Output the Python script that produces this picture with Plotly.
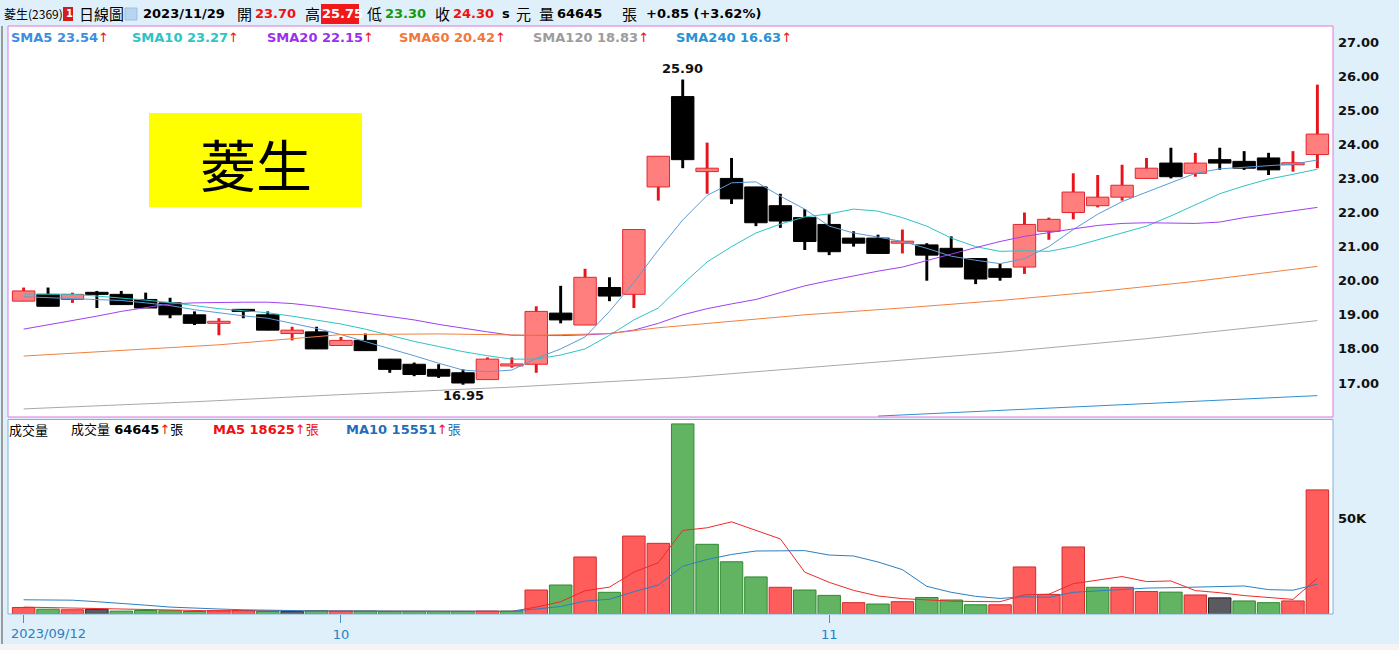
import plotly.graph_objects as go

# ---------------- data ----------------
dates = ["2023/09/12","09/13","09/14","09/15","09/18","09/19","09/20","09/21","09/22","09/25","09/26","09/27","09/28",
         "10/02","10/03","10/04","10/05","10/06","10/11","10/12","10/13","10/16","10/17","10/18","10/19","10/20",
         "10/23","10/24","10/25","10/26","10/27","10/30","10/31",
         "11/01","11/02","11/03","11/06","11/07","11/08","11/09","11/10","11/13","11/14","11/15","11/16","11/17",
         "11/20","11/21","11/22","11/23","11/24","11/27","11/28","11/29"]

opens = [19.40,19.60,19.45,19.60,19.60,19.45,19.35,19.00,18.75,19.15,19.00,18.45,18.50,18.10,18.25,17.70,17.55,17.40,
         17.30,17.10,17.50,17.55,19.05,18.70,19.80,19.60,22.75,25.40,23.20,23.00,22.75,22.20,21.85,21.65,21.25,21.25,
         21.10,21.05,20.95,20.65,20.35,20.40,21.45,22.00,22.20,22.45,23.00,23.45,23.15,23.55,23.50,23.60,23.40,23.70]
highs = [19.80,19.80,19.65,19.70,19.70,19.65,19.50,19.10,18.90,19.15,19.10,18.65,18.65,18.35,18.45,17.70,17.60,17.55,
         17.40,17.75,17.75,19.25,19.85,20.35,20.10,21.50,23.65,25.90,24.05,23.60,22.75,22.55,22.10,21.95,21.45,21.35,
         21.50,21.10,21.30,20.65,20.50,22.00,21.85,23.15,23.10,23.40,23.60,23.90,23.75,23.90,23.80,23.75,23.80,25.75]
lows = [19.40,19.25,19.35,19.20,19.30,19.20,18.90,18.70,18.40,18.90,18.55,18.25,18.00,18.10,17.95,17.30,17.20,17.15,
        16.95,17.10,17.45,17.30,18.75,18.70,19.40,19.20,22.35,23.30,22.55,22.25,21.60,21.55,20.90,20.75,21.00,20.80,
        20.80,20.00,20.40,19.90,20.00,20.20,21.20,21.80,22.15,22.35,23.00,23.00,23.05,23.25,23.25,23.10,23.20,23.30]
closes = [19.70,19.25,19.60,19.60,19.30,19.20,19.00,18.75,18.80,19.10,18.55,18.55,18.00,18.25,17.95,17.40,17.25,17.20,
          17.00,17.70,17.55,19.10,18.85,20.10,19.55,21.50,23.65,23.55,23.30,22.40,21.70,21.75,21.15,20.85,21.10,20.80,
          21.15,20.75,20.40,20.05,20.10,21.65,21.80,22.60,22.45,22.80,23.30,23.05,23.45,23.45,23.30,23.25,23.45,24.30]
volumes = [3400,2500,2200,2500,1500,1800,1700,1300,1700,1800,1300,1300,1800,1500,1500,1300,1300,1300,1300,1500,1500,
           12500,15100,29700,11300,40600,36800,99000,36300,27200,19300,13900,12500,9700,5900,5200,6400,8600,7300,4800,
           4800,24500,10200,34900,13900,13900,11700,11400,9900,8400,6800,5900,6800,64645]

sma5 = [19.53,19.50,19.48,19.45,19.42,19.35,19.27,19.15,19.05,18.97,18.90,18.75,18.60,18.42,18.22,18.00,17.80,17.58,
        17.38,17.33,17.38,17.72,18.00,18.35,19.10,19.95,20.90,21.78,22.50,22.87,22.90,22.48,22.10,21.60,21.40,21.28,
        21.15,20.95,20.72,20.60,20.50,20.65,21.00,21.50,21.95,22.32,22.60,22.86,23.15,23.28,23.33,23.36,23.42,23.54]
sma10 = [19.61,19.61,19.60,19.55,19.50,19.43,19.36,19.27,19.18,19.12,19.06,18.96,18.85,18.73,18.58,18.40,18.22,18.07,
         17.92,17.80,17.70,17.70,17.82,18.00,18.40,18.85,19.20,19.90,20.55,21.00,21.40,21.66,21.87,21.96,22.10,22.04,
         21.85,21.60,21.25,21.00,20.86,20.88,20.86,21.00,21.20,21.40,21.60,21.90,22.22,22.55,22.78,22.98,23.12,23.27]
sma20 = [18.58,18.70,18.82,18.96,19.10,19.22,19.32,19.35,19.37,19.37,19.37,19.33,19.25,19.15,19.05,18.95,18.85,18.72,
         18.60,18.50,18.40,18.39,18.39,18.41,18.45,18.55,18.75,19.00,19.18,19.32,19.45,19.65,19.85,20.00,20.15,20.28,
         20.40,20.60,20.78,20.97,21.15,21.30,21.42,21.52,21.62,21.68,21.70,21.68,21.68,21.72,21.85,21.95,22.05,22.15]
sma60_idx = [0, 4, 8, 13, 17, 21, 24, 26, 28, 32, 36, 40, 44, 48, 53]
sma60 = [17.79, 17.95, 18.12, 18.42, 18.44, 18.40, 18.45, 18.62, 18.75, 19.00, 19.20, 19.42, 19.68, 19.98, 20.42]
sma120_idx = [0, 7, 13, 20, 27, 33, 40, 46, 53]
sma120 = [16.24, 16.45, 16.66, 16.88, 17.16, 17.50, 17.90, 18.30, 18.83]
sma240_idx = [35, 40, 45, 50, 53]
sma240 = [16.03, 16.20, 16.37, 16.53, 16.63]

vol_ma5 = [3600,3300,3000,2800,2400,2100,1900,1800,1600,1700,1600,1600,1600,1500,1500,1500,1500,1400,1300,1300,1400,
           3600,6400,12100,14000,21800,26700,43500,44900,48000,43700,39100,21800,16500,12300,9400,8000,7200,6700,6500,
           6400,10000,10300,15800,17700,19500,16900,17200,12200,11100,9600,8500,7600,18625]
vol_ma10 = [7400,7400,7200,6400,5600,4600,3600,3000,2600,2200,1900,1700,1600,1600,1500,1500,1500,1500,1500,1500,1400,
            2600,3900,6700,7700,11600,15100,24900,28400,31000,32800,32900,33000,30700,30200,27100,23100,14400,11300,9200,
            8100,9000,8700,11300,12100,12900,13500,13700,14000,14400,14600,12700,12400,15551]

price_ticks = [17, 18, 19, 20, 21, 22, 23, 24, 25, 26, 27]
x_tick_pos = [0, 13, 33]
x_tick_text = ["2023/09/12", "10", "11"]

# ---------------- figure ----------------
W, H = 1399, 650
def px(xp): return xp / W
def py(yp): return 1 - yp / H

FONT = "DejaVu Sans, Noto Sans CJK TC, sans-serif"
CJK = "Noto Sans CJK TC, DejaVu Sans, sans-serif"
n = len(dates)
idx = list(range(n))
up = [c > o for o, c in zip(opens, closes)]

fig = go.Figure()

# wicks
fig.add_trace(go.Bar(
    x=idx, y=[h - l for h, l in zip(highs, lows)], base=lows, width=0.12,
    marker=dict(color=["#e8141c" if u else "#000000" for u in up], line=dict(width=0)),
    xaxis="x2", yaxis="y", hoverinfo="skip", showlegend=False))
# bodies
body_base = [min(o, c) for o, c in zip(opens, closes)]
body_h = [max(abs(c - o), 0.06) for o, c in zip(opens, closes)]
fig.add_trace(go.Bar(
    x=idx, y=body_h, base=body_base, width=0.92,
    marker=dict(color=["#ff7f7f" if u else "#000000" for u in up],
                line=dict(color=["#e5262e" if u else "#000000" for u in up], width=1)),
    xaxis="x2", yaxis="y", hoverinfo="skip", showlegend=False))

ma_specs = [
    (idx, sma5, "#5b9bd5"), (idx, sma10, "#2ec4c4"), (idx, sma20, "#a040f0"),
    (sma60_idx, sma60, "#f08040"), (sma120_idx, sma120, "#a8a8a8"), (sma240_idx, sma240, "#2e90d0"),
]
for xs, ys, col in ma_specs:
    fig.add_trace(go.Scatter(x=xs, y=ys, mode="lines", line=dict(color=col, width=1),
                             xaxis="x2", yaxis="y", hoverinfo="skip", showlegend=False))

# volume
vcol, vline = [], []
for i in range(n):
    if i == 0 or closes[i] > closes[i - 1]:
        vcol.append("#ff5c5c"); vline.append("#d42a2a")
    elif closes[i] < closes[i - 1]:
        vcol.append("#62b462"); vline.append("#2f8a2f")
    else:
        vcol.append("#5a5a60"); vline.append("#222222")
fig.add_trace(go.Bar(x=idx, y=volumes, width=0.92,
                     marker=dict(color=vcol, line=dict(color=vline, width=1)),
                     xaxis="x", yaxis="y2", hoverinfo="skip", showlegend=False))
fig.add_trace(go.Scatter(x=idx, y=vol_ma5, mode="lines", line=dict(color="#ee2a2a", width=1),
                         xaxis="x", yaxis="y2", hoverinfo="skip", showlegend=False))
fig.add_trace(go.Scatter(x=idx, y=vol_ma10, mode="lines", line=dict(color="#2c7fc0", width=1),
                         xaxis="x", yaxis="y2", hoverinfo="skip", showlegend=False))

xr = [-0.64, 53.64]
xdom = [px(8), px(1333)]
fig.update_layout(
    width=W, height=H, margin=dict(l=0, r=0, t=0, b=0),
    paper_bgcolor="#e0f0fb", plot_bgcolor="#ffffff",
    barmode="overlay", showlegend=False,
    font=dict(family=FONT, size=13, color="#000"),
    xaxis=dict(domain=xdom, range=xr, anchor="y2", showgrid=False, zeroline=False,
               tickvals=x_tick_pos, ticktext=[""] + x_tick_text[1:], ticks="outside", ticklen=8,
               tickcolor="#4a90c8", tickfont=dict(color="#2a7fc0", size=13, family=FONT),
               showline=False, ticklabeloverflow="allow"),
    xaxis2=dict(domain=xdom, range=xr, anchor="y", matches="x", showgrid=False, zeroline=False,
                showticklabels=False, ticks=""),
    yaxis=dict(domain=[py(417), py(26)], range=[16.003, 27.47], side="right", anchor="x2",
               showgrid=False, zeroline=False, tickvals=price_ticks,
               ticktext=["<b>%.2f</b>" % v for v in price_ticks], ticks="",
               ticklabelstandoff=4, tickfont=dict(size=13, color="#111")),
    yaxis2=dict(domain=[py(614), py(419.5)], range=[0, 101300], side="right", anchor="x",
                showgrid=False, zeroline=False, tickvals=[50000], ticktext=["<b>50K</b>"],
                ticks="", ticklabelstandoff=4, tickfont=dict(size=13, color="#111")),
)

shapes = []
shapes.append(dict(type="rect", xref="paper", yref="paper", x0=px(8), x1=px(1333), y0=py(417), y1=py(26),
                   line=dict(color="#dc78dc", width=1)))
shapes.append(dict(type="rect", xref="paper", yref="paper", x0=px(8), x1=px(1333), y0=py(614), y1=py(419.5),
                   line=dict(color="#7fb0d6", width=1)))
shapes.append(dict(type="line", xref="paper", yref="paper", x0=px(2), x1=px(2), y0=py(645), y1=py(26),
                   line=dict(color="#9a9a9a", width=2)))
shapes.append(dict(type="rect", xref="paper", yref="paper", x0=0, x1=1, y0=0, y1=py(644),
                   line=dict(width=0), fillcolor="#f4f4f4"))
shapes.append(dict(type="rect", xref="paper", yref="paper", x0=px(149), x1=px(362), y0=py(207), y1=py(113),
                   line=dict(width=0), fillcolor="#ffff00"))
shapes.append(dict(type="rect", xref="paper", yref="paper", x0=px(63), x1=px(73), y0=py(21), y1=py(7),
                   line=dict(width=0), fillcolor="#d01c1c"))
shapes.append(dict(type="rect", xref="paper", yref="paper", x0=px(125), x1=px(137), y0=py(20), y1=py(8),
                   line=dict(color="#9cc0e4", width=1), fillcolor="#b8d4f0"))
shapes.append(dict(type="rect", xref="paper", yref="paper", x0=px(321), x1=px(359), y0=py(24), y1=py(4),
                   line=dict(width=0), fillcolor="#f01818"))
fig.update_layout(shapes=shapes)

ann = []
def txt(x, y, s, size=13, color="#000", fam=FONT, xanchor="left"):
    ann.append(dict(xref="paper", yref="paper", x=px(x), y=py(y), text=s, showarrow=False,
                    xanchor=xanchor, yanchor="middle", font=dict(size=size, color=color, family=fam)))

# header
HY = 14
txt(2, HY, "菱生(2369)", 12, "#000", CJK)
txt(64, HY, "<b>1</b>", 10, "#ffffff")
txt(77, HY, "日線圖", 15, "#000", CJK)
txt(141, HY, "<b>2023/11/29</b>", 13)
txt(235, HY, "開", 15, "#000", CJK)
txt(253, HY, "<b>23.70</b>", 13, "#ee1111")
txt(303, HY, "高", 15, "#000", CJK)
txt(320, HY, "<b>25.75</b>", 13, "#ffffff")
txt(365, HY, "低", 15, "#000", CJK)
txt(383, HY, "<b>23.30</b>", 13, "#119911")
txt(433, HY, "收", 15, "#000", CJK)
txt(451, HY, "<b>24.30</b>", 13, "#ee1111")
txt(500, HY, "<b>s</b>", 13)
txt(514, HY, "元", 15, "#000", CJK)
txt(537, HY, "量", 15, "#000", CJK)
txt(555, HY, "<b>64645</b>", 13)
txt(620, HY, "張", 15, "#000", CJK)
txt(644, HY, "<b>+0.85 (+3.62%)</b>", 13)

# price legend
LY = 37
arrow = "<span style='color:#ee1111'>↑</span>"
legend_items = [(9, "SMA5 23.54", "#3d8ee0"), (130, "SMA10 23.27", "#2cc4c4"),
                (265, "SMA20 22.15", "#9a30ee"), (397, "SMA60 20.42", "#f0783a"),
                (531, "SMA120 18.83", "#9c9c9c"), (674, "SMA240 16.63", "#2a92d4")]
for x, s, c in legend_items:
    txt(x, LY, "<b>" + s + "</b>" + arrow, 13, c)

# volume legend
VY = 429
txt(7, VY, "成交量", 13, "#000", CJK)
txt(69, VY, "成交量 <b>64645</b>" + arrow + "張", 13, "#000")
txt(211, VY, "<b>MA5 18625</b>" + arrow + "張", 13, "#ee1111")
txt(344, VY, "<b>MA10 15551</b>" + arrow + "張", 13, "#1f6fb8")

# first date label (left aligned as in the reference)
txt(9, 633, x_tick_text[0], 13, "#2a7fc0")

# big name label
txt(255.5, 162, "菱生", 56, "#000", CJK, xanchor="center")

fig.update_layout(annotations=ann)

fig.add_annotation(x=27, y=25.90, xref="x2", yref="y", text="<b>25.90</b>", showarrow=False,
                   yanchor="bottom", yshift=2, font=dict(size=13, color="#111", family=FONT))
fig.add_annotation(x=18, y=16.95, xref="x2", yref="y", text="<b>16.95</b>", showarrow=False,
                   yanchor="top", yshift=-1, font=dict(size=13, color="#111", family=FONT))

fig.write_html("out.html", config={"displayModeBar": False},
               post_script="document.body.style.margin='0px';document.body.style.overflow='hidden';")
